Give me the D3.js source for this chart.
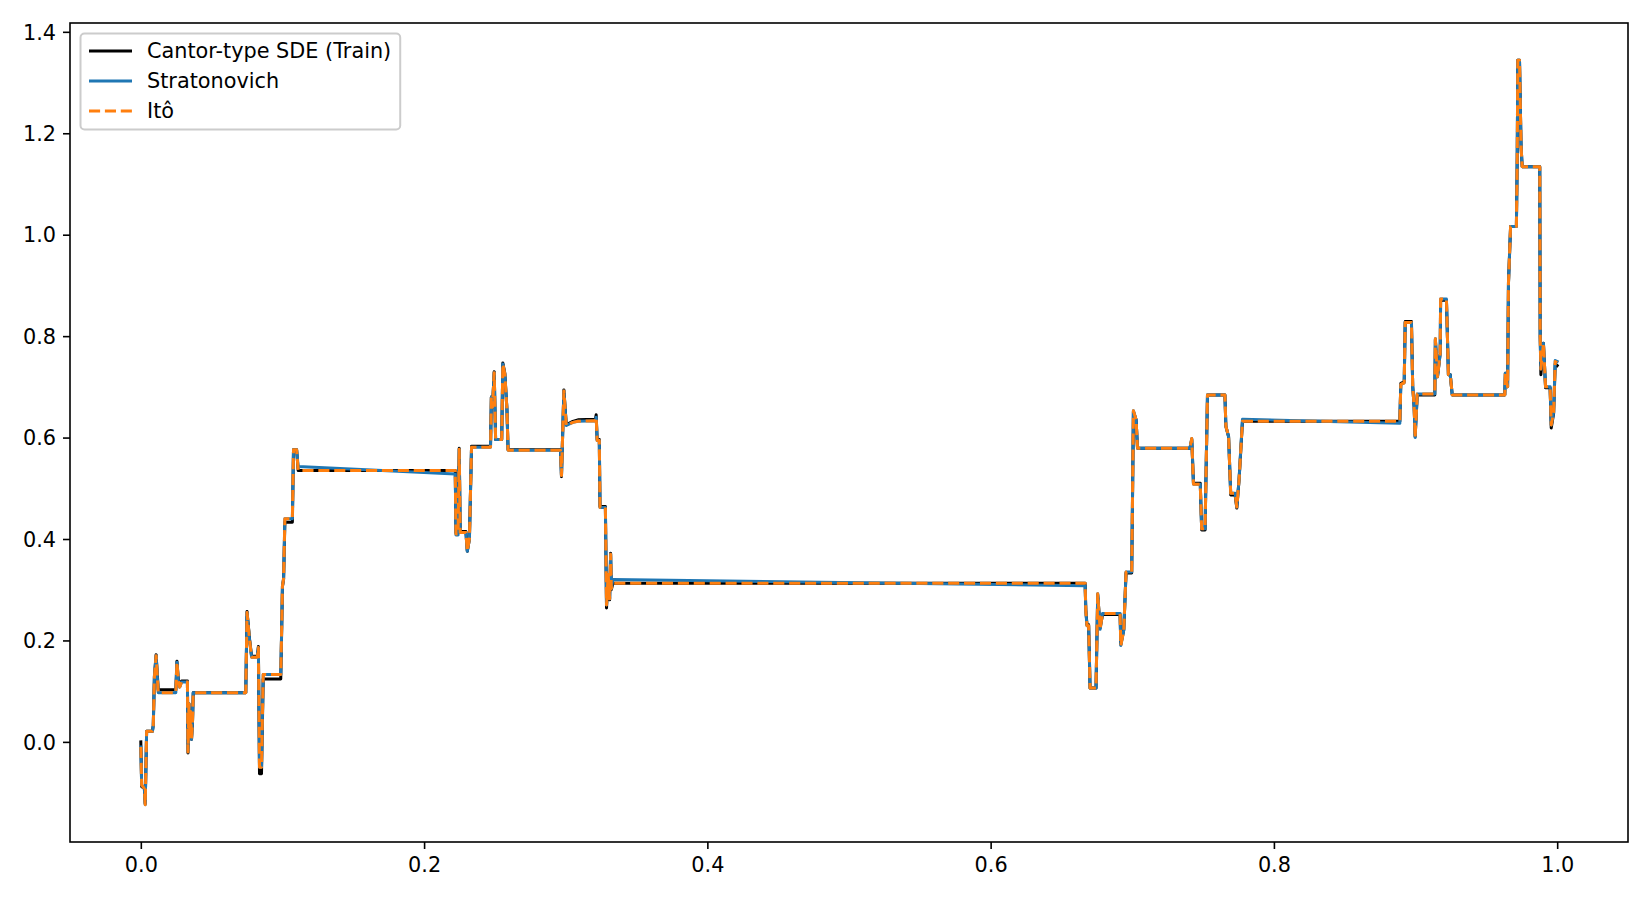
<!DOCTYPE html>
<html><head><meta charset="utf-8">
<script src="https://cdn.jsdelivr.net/npm/d3@7"></script>
<style>body{margin:0;background:#fff} svg{display:block} text{font-family:"DejaVu Sans",sans-serif}</style>
</head><body><svg id="chart" width="1650" height="900"></svg>
<script>
// ---- data ----
const tGrid = [
 0.0000,0.0006,0.0025,0.0031,0.0041,0.0082,0.0088,0.0096,0.0108,0.0123,
 0.0247,0.0255,0.0265,0.0275,0.0288,0.0329,0.0333,0.0340,0.0346,0.0352,
 0.0358,0.0365,0.0370,0.0741,0.0750,0.0768,0.0782,0.0823,0.0830,0.0838,
 0.0852,0.0864,0.0988,0.0995,0.1000,0.1008,0.1017,0.1070,0.1078,0.1100,
 0.1111,
 0.2220,0.2225,0.2240,0.2248,0.2255,0.2295,0.2305,0.2320,0.2335,0.2469,
 0.2475,0.2483,0.2495,0.2505,0.2548,0.2556,0.2570,0.2585,0.2593,0.2963,
 0.2970,0.2987,0.3004,0.3050,0.3086,0.3210,0.3215,0.3222,0.3237,0.3242,
 0.3280,0.3288,0.3300,0.3310,0.3317,0.3322,0.3333,
 0.6667,0.6672,0.6680,0.6692,0.6702,0.6744,0.6756,0.6773,0.6790,0.6914,
 0.6919,0.6940,0.6956,0.6996,0.7000,0.7008,0.7027,0.7037,0.7407,0.7420,
 0.7432,0.7480,0.7490,0.7514,0.7520,0.7531,0.7654,0.7661,0.7680,0.7695,
 0.7726,0.7738,0.7754,0.7778,
 0.8889,0.8896,0.8920,0.8927,0.8971,0.8980,0.8990,0.8997,0.9012,0.9136,
 0.9140,0.9155,0.9174,0.9177,0.9218,0.9222,0.9232,0.9245,0.9259,0.9630,
 0.9634,0.9650,0.9656,0.9671,0.9712,0.9718,0.9722,0.9734,0.9745,0.9753,
 0.9877,0.9880,0.9885,0.9903,0.9918,0.9950,0.9958,0.9975,0.9986,1.0000
];
const yTrain = [
 0.000,-0.088,-0.092,-0.122,0.021,0.021,0.033,0.130,0.172,0.103,
 0.103,0.159,0.123,0.110,0.120,0.120,-0.022,0.075,0.010,0.060,
 0.005,0.040,0.097,0.097,0.257,0.202,0.169,0.169,0.188,-0.063,
 -0.063,0.124,0.124,0.228,0.307,0.320,0.433,0.433,0.576,0.576,
 0.535,
 0.535,0.412,0.412,0.579,0.415,0.415,0.376,0.400,0.583,0.583,
 0.680,0.660,0.730,0.596,0.596,0.747,0.727,0.655,0.576,0.576,
 0.523,0.694,0.625,0.632,0.635,0.636,0.645,0.596,0.596,0.464,
 0.464,0.264,0.330,0.280,0.372,0.300,0.313,
 0.313,0.261,0.231,0.231,0.106,0.106,0.290,0.225,0.251,0.251,
 0.192,0.221,0.333,0.333,0.435,0.651,0.635,0.579,0.579,0.596,
 0.510,0.510,0.418,0.418,0.517,0.684,0.684,0.622,0.602,0.487,
 0.487,0.461,0.517,0.632,
 0.632,0.707,0.710,0.829,0.829,0.701,0.661,0.602,0.684,0.684,
 0.793,0.720,0.766,0.871,0.871,0.832,0.724,0.724,0.684,0.684,
 0.727,0.700,0.904,1.016,1.016,1.154,1.344,1.344,1.174,1.134,
 1.134,0.799,0.724,0.786,0.698,0.698,0.619,0.648,0.745,0.742
];
const yStrat = [
 -0.010,-0.085,-0.092,-0.124,0.021,0.021,0.033,0.128,0.170,0.097,
 0.097,0.157,0.120,0.108,0.118,0.118,-0.020,0.075,0.010,0.060,
 0.005,0.040,0.097,0.097,0.255,0.200,0.167,0.167,0.186,-0.050,
 -0.050,0.133,0.133,0.230,0.307,0.322,0.440,0.440,0.576,0.576,
 0.543,
 0.528,0.408,0.408,0.577,0.413,0.413,0.376,0.400,0.581,0.581,
 0.680,0.660,0.728,0.596,0.596,0.745,0.725,0.655,0.575,0.575,
 0.525,0.692,0.624,0.630,0.632,0.633,0.640,0.594,0.594,0.462,
 0.462,0.270,0.330,0.282,0.370,0.302,0.320,
 0.308,0.258,0.229,0.229,0.106,0.106,0.292,0.222,0.253,0.253,
 0.190,0.220,0.335,0.335,0.435,0.653,0.635,0.579,0.579,0.598,
 0.508,0.508,0.420,0.420,0.517,0.684,0.684,0.622,0.602,0.490,
 0.490,0.463,0.517,0.636,
 0.628,0.705,0.708,0.827,0.827,0.701,0.661,0.600,0.686,0.686,
 0.795,0.720,0.766,0.873,0.873,0.832,0.724,0.724,0.684,0.684,
 0.727,0.700,0.904,1.016,1.016,1.154,1.344,1.344,1.174,1.134,
 1.134,0.799,0.735,0.786,0.700,0.700,0.625,0.650,0.752,0.750
];
const yIto = [
 -0.010,-0.085,-0.092,-0.124,0.021,0.021,0.033,0.128,0.170,0.097,
 0.097,0.157,0.120,0.108,0.118,0.118,-0.020,0.075,0.010,0.060,
 0.005,0.040,0.097,0.097,0.255,0.200,0.167,0.167,0.186,-0.050,
 -0.050,0.133,0.133,0.230,0.307,0.322,0.440,0.440,0.576,0.576,
 0.535,
 0.535,0.410,0.410,0.577,0.413,0.413,0.376,0.400,0.581,0.581,
 0.680,0.660,0.728,0.596,0.596,0.745,0.725,0.655,0.575,0.575,
 0.525,0.692,0.624,0.630,0.632,0.633,0.640,0.594,0.594,0.462,
 0.462,0.270,0.330,0.282,0.370,0.302,0.313,
 0.313,0.258,0.229,0.229,0.106,0.106,0.292,0.222,0.253,0.253,
 0.190,0.220,0.335,0.335,0.435,0.653,0.635,0.579,0.579,0.598,
 0.508,0.508,0.420,0.420,0.517,0.684,0.684,0.622,0.602,0.490,
 0.490,0.463,0.517,0.632,
 0.632,0.705,0.708,0.827,0.827,0.701,0.661,0.600,0.686,0.686,
 0.795,0.720,0.766,0.873,0.873,0.832,0.724,0.724,0.684,0.684,
 0.727,0.700,0.904,1.016,1.016,1.154,1.344,1.344,1.174,1.134,
 1.134,0.799,0.735,0.786,0.700,0.700,0.625,0.650,0.750,0.748
];
const seriesNames = ["Cantor-type SDE (Train)", "Stratonovich", "Itô"];
const seriesColors = ["#000000", "#1f77b4", "#ff7f0e"];
const xTicks = [0.0, 0.2, 0.4, 0.6, 0.8, 1.0];
const yTicks = [0.0, 0.2, 0.4, 0.6, 0.8, 1.0, 1.2, 1.4];

// ---- layout ----
const FS = "20.8px";
const ax = {left: 70, right: 1628, top: 23, bottom: 842};
const svg = d3.select("#chart");

const x = d3.scaleLinear().domain([-0.05, 1.05]).range([ax.left, ax.right]);
const allY = yTrain.concat(yStrat, yIto);
const [yMin, yMax] = d3.extent(allY);
const pad = 0.05 * (yMax - yMin);
const y = d3.scaleLinear().domain([yMin - pad, yMax + pad]).range([ax.bottom, ax.top]);

svg.append("defs").append("clipPath").attr("id", "clip")
  .append("rect").attr("x", ax.left).attr("y", ax.top)
  .attr("width", ax.right - ax.left).attr("height", ax.bottom - ax.top);

const line = d3.line().x(d => x(d[0])).y(d => y(d[1]));
const series = [
  {name: seriesNames[0], color: seriesColors[0], ys: yTrain, dash: null},
  {name: seriesNames[1], color: seriesColors[1], ys: yStrat, dash: null},
  {name: seriesNames[2], color: seriesColors[2], ys: yIto, dash: "11.1,4.8"}
];
const gLines = svg.append("g").attr("clip-path", "url(#clip)");
series.forEach(s => {
  const pts = tGrid.map((t, i) => [t, s.ys[i]]);
  gLines.append("path").datum(pts).attr("d", line)
    .attr("fill", "none").attr("stroke", s.color).attr("stroke-width", 3)
    .attr("stroke-linejoin", "round").attr("stroke-linecap", s.dash ? "butt" : "square")
    .attr("stroke-dasharray", s.dash);
});

// ---- axes ----
const fmt = d3.format(".1f");
const xAxis = d3.axisBottom(x).tickValues(xTicks).tickFormat(fmt).tickSize(7).tickPadding(7);
const yAxis = d3.axisLeft(y).tickValues(yTicks).tickFormat(fmt).tickSize(7).tickPadding(7);
const gx = svg.append("g").attr("transform", `translate(0,${ax.bottom})`).call(xAxis);
const gy = svg.append("g").attr("transform", `translate(${ax.left},0)`).call(yAxis);
[gx, gy].forEach(g => {
  g.select(".domain").remove();
  g.selectAll(".tick line").attr("stroke", "#000").attr("stroke-width", 1.6);
  g.selectAll(".tick text").attr("fill", "#000").style("font-size", FS)
    .style("font-family", '"DejaVu Sans", sans-serif');
});
gx.selectAll(".tick text").attr("dy", null).attr("y", 30);
gy.selectAll(".tick text").attr("dy", "0.35em");

svg.append("rect").attr("x", ax.left).attr("y", ax.top)
  .attr("width", ax.right - ax.left).attr("height", ax.bottom - ax.top)
  .attr("fill", "none").attr("stroke", "#000").attr("stroke-width", 1.6);

// ---- legend ----
const lg = svg.append("g");
const lgBox = lg.append("rect").attr("x", 80.5).attr("y", 33.5).attr("rx", 4).attr("ry", 4)
  .attr("fill", "#fff").attr("fill-opacity", 0.8).attr("stroke", "#cccccc").attr("stroke-width", 2);
const rowY = [51, 81, 111];
let maxEnd = 0;
series.forEach((s, i) => {
  lg.append("line").attr("x1", 89).attr("x2", 132).attr("y1", rowY[i]).attr("y2", rowY[i])
    .attr("stroke", s.color).attr("stroke-width", 3)
    .attr("stroke-dasharray", s.dash).attr("stroke-linecap", "butt");
  const tx = lg.append("text").attr("x", 147).attr("y", rowY[i]).attr("dy", "0.35em")
    .style("font-size", FS).attr("fill", "#000").text(s.name);
  const bb = tx.node().getBBox();
  maxEnd = Math.max(maxEnd, bb.x + bb.width);
});
lgBox.attr("width", Math.max(319, maxEnd + 9 - 80.5)).attr("height", 96);
</script>
</body></html>
